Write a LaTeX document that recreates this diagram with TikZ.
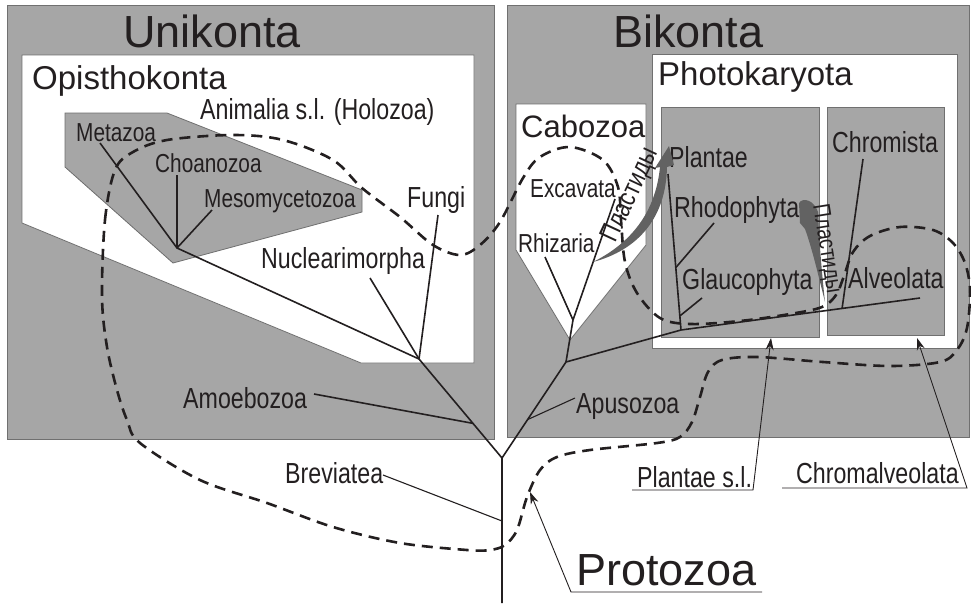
\documentclass[tikz,border=0pt]{standalone}
\usepackage{fontspec}
\setmainfont{Liberation Sans}
\newfontfamily\narrowfont[FakeStretch=0.8]{Liberation Sans}
\usetikzlibrary{arrows.meta, calc, positioning}
\definecolor{boxgray}{RGB}{166,166,166}
\definecolor{edgegray}{RGB}{112,112,112}
\definecolor{plastgray}{RGB}{98,98,98}
\definecolor{ink}{RGB}{35,31,32}

\begin{document}
\begin{tikzpicture}[
    x=1pt, y=-1pt,
    font=\narrowfont,
    group/.style={fill=boxgray, draw=edgegray, line width=0.8pt},
    subgroup/.style={fill=white, draw=edgegray, line width=0.8pt},
    bigtitle/.style={anchor=base west, inner sep=0pt, text=ink, font=\rmfamily\fontsize{45}{50}\selectfont},
    cladetitle/.style={anchor=base west, inner sep=0pt, text=ink, font=\rmfamily\fontsize{33}{36}\selectfont},
    taxon/.style={anchor=base west, inner sep=0pt, text=ink, font=\narrowfont\fontsize{29}{32}\selectfont},
    smalltaxon/.style={anchor=base west, inner sep=0pt, text=ink, font=\narrowfont\fontsize{26}{29}\selectfont},
    branch/.style={draw=ink, line width=1.6pt},
    leader/.style={draw=ink, line width=1.1pt},
    pointer/.style={draw=ink, line width=0.9pt, -{Stealth[length=12pt,width=8pt]}},
    protozoaline/.style={draw=ink, line width=2.6pt, dash pattern=on 11pt off 7pt},
    plastid/.style={fill=plastgray, draw=none},
    plastidtext/.style={inner sep=0pt, text=ink, font=\narrowfont\fontsize{27}{29}\selectfont}
  ]

  \fill[white] (0,0) rectangle (971,603);
  \useasboundingbox (0,0) rectangle (971,603);

  % Group boxes
  \draw[group] (7,5) rectangle (494,439);
  \draw[group] (507,5) rectangle (969,437);
  \draw[subgroup] (22,55) -- (474,55) -- (474,363) -- (361,363) -- (22,223) -- cycle;
  \draw[group] (65,113) -- (167,113) -- (362,190) -- (362,212) -- (173,263) -- (65,167) -- cycle;
  \draw[subgroup] (652,54) rectangle (957,348);
  \draw[group] (661,107) rectangle (819,337);
  \draw[group] (827,107) rectangle (944,335);
  \draw[subgroup] (516,104) -- (646,104) -- (646,245) -- (570,340) -- (516,250) -- cycle;

  % Protozoa outline
  \draw[protozoaline] plot[smooth cycle, tension=0.55] coordinates {
    (102,297) (105,220) (115,170) (133,152) (167,140) (233,135) (283,140)
    (333,160) (362,188) (400,217) (433,245) (460,255) (480,245) (500,222)
    (523,178) (540,157) (570,147) (603,160) (618,187) (621,220) (625,262)
    (637,293) (660,318) (690,324) (740,321) (790,314) (822,307) (836,295)
    (844,276) (853,252) (870,236) (900,227) (933,230) (953,243) (965,263)
    (970,290) (967,328) (957,350) (940,362) (890,366) (823,362) (757,357)
    (722,360) (708,372) (700,397) (692,422) (680,437) (657,443) (590,450)
    (557,457) (540,470) (527,497) (517,530) (505,545) (490,550) (467,550)
    (400,543) (333,527) (267,503) (200,480) (140,443) (127,420) (117,390)
    (107,347)};

  % Labels
  \node[bigtitle] (unikonta) at (123,47) {Unikonta};
  \node[bigtitle] (bikonta) at (613,47) {Bikonta};
  \node[cladetitle] (opisthokonta) at (32,89) {Opisthokonta};
  \node[cladetitle] (photokaryota) at (658,85) {Photokaryota};
  \node[cladetitle, font=\rmfamily\fontsize{31}{34}\selectfont] (cabozoa) at (521,137) {Cabozoa};
  \node[taxon] (animalia) at (200,119) {Animalia s.l. (Holozoa)};
  \node[smalltaxon] (metazoa) at (76,141) {Metazoa};
  \node[smalltaxon] (choanozoa) at (155,172) {Choanozoa};
  \node[smalltaxon] (mesomycetozoa) at (204,207) {Mesomycetozoa};
  \node[taxon] (fungi) at (407,207) {Fungi};
  \node[taxon] (nuclearimorpha) at (261,268) {Nuclearimorpha};
  \node[taxon] (amoebozoa) at (183,408) {Amoebozoa};
  \node[taxon] (breviatea) at (285,483) {Breviatea};
  \node[smalltaxon] (excavata) at (530,197) {Excavata};
  \node[smalltaxon] (rhizaria) at (518,252) {Rhizaria};
  \node[taxon] (plantae) at (669,167) {Plantae};
  \node[taxon] (rhodophyta) at (674,217) {Rhodophyta};
  \node[taxon] (glaucophyta) at (682,289) {Glaucophyta};
  \node[taxon] (chromista) at (832,152) {Chromista};
  \node[taxon] (alveolata) at (848,288) {Alveolata};
  \node[taxon] (apusozoa) at (576,413) {Apusozoa};
  \node[taxon] (plantaesl) at (637,487) {Plantae s.l.};
  \node[taxon] (chromalveolata) at (796,483) {Chromalveolata};
  \node[bigtitle] (protozoa) at (576,585) {Protozoa};

  % Tree junctions and branch tips
  \coordinate (root) at (502,603);
  \coordinate (fork) at (502,458);
  \coordinate (opisJ) at (419,359);
  \coordinate (holoJ) at (177,248);
  \coordinate (bikJ) at (566,362);
  \coordinate (caboJ) at (573,320);
  \coordinate (photoJ) at (681,330);
  \coordinate (brevJ) at (502,521);
  \coordinate (metaE) at (100,143);
  \coordinate (choanE) at (177,175);
  \coordinate (mesoE) at (212,210);
  \coordinate (fungiE) at (438,215);
  \coordinate (nuclE) at (370,278);
  \coordinate (amoebE) at (314,394);
  \coordinate (brevE) at (383,475);
  \coordinate (excavE) at (615,199);
  \coordinate (rhizE) at (545,257);
  \coordinate (plantE) at (668,174);
  \coordinate (rhodE) at (714,223);
  \coordinate (glaucE) at (702,298);
  \coordinate (chromE) at (863,159);
  \coordinate (alveoE) at (920,298);
  \coordinate (apusE) at (575,398);
  \coordinate (amoebJ) at ($(fork)!0.35!(opisJ)$);
  \coordinate (apusJ) at ($(fork)!0.4!(bikJ)$);
  \coordinate (rhodJ) at ($(photoJ)!0.4!(plantE)$);
  \coordinate (glaucJ) at ($(photoJ)!0.09!(plantE)$);
  \coordinate (chromJ) at ($(photoJ)!0.674!(alveoE)$);

  % Unikonta branches
  \draw[branch] (root) -- (fork) -- (opisJ) -- (holoJ) -- (metaE);
  \draw[branch] (holoJ) -- (choanE);
  \draw[branch] (holoJ) -- (mesoE);
  \draw[branch] (opisJ) -- (fungiE);
  \draw[branch] (opisJ) -- (nuclE);
  \draw[branch] (amoebJ) -- (amoebE);
  \draw[leader] (brevJ) -- (brevE);

  % Bikonta branches
  \draw[branch] (fork) -- (bikJ) -- (photoJ) -- (alveoE);
  \draw[branch] (bikJ) -- (caboJ) -- (excavE);
  \draw[branch] (caboJ) -- (rhizE);
  \draw[branch] (photoJ) -- (plantE);
  \draw[branch] (rhodJ) -- (rhodE);
  \draw[branch] (glaucJ) -- (glaucE);
  \draw[branch] (chromJ) -- (chromE);
  \draw[leader] (apusJ) -- (apusE);

  % Plastid transfers
  \fill[plastid] (593,262) .. controls (625,246) and (655,218) .. (660,167) -- (655,168)
    -- (669,146) -- (674,165) -- (667,167) .. controls (666,218) and (638,250) .. cycle;
  \node[plastidtext, rotate=65] (plastid1) at (631,195) {Пластиды};
  \fill[plastid] (799,203) .. controls (803,197) and (814,200) .. (818,212)
    .. controls (819,240) and (822,275) .. (825,302)
    .. controls (819,278) and (812,248) .. (805,229) -- (800,223) -- cycle;
  \node[plastidtext, rotate=-81, font=\narrowfont\fontsize{24}{26}\selectfont] (plastid2) at (826,249) {Пластиды};

  % Pointers to groups
  \coordinate (protoUL) at (571,592);
  \coordinate (protoUR) at (762,592);
  \coordinate (protoTip) at (530,492);
  \coordinate (plantUL) at (632,490);
  \coordinate (plantUR) at (753,490);
  \coordinate (plantTip) at (771,338);
  \coordinate (chromUL) at (782,488);
  \coordinate (chromUR) at (967,488);
  \coordinate (chromTip) at (917,338);
  \draw[pointer] (protoUR) -- (protoUL) -- (protoTip);
  \draw[pointer] (plantUL) -- (plantUR) -- (plantTip);
  \draw[pointer] (chromUL) -- (chromUR) -- (chromTip);

\end{tikzpicture}
\end{document}
